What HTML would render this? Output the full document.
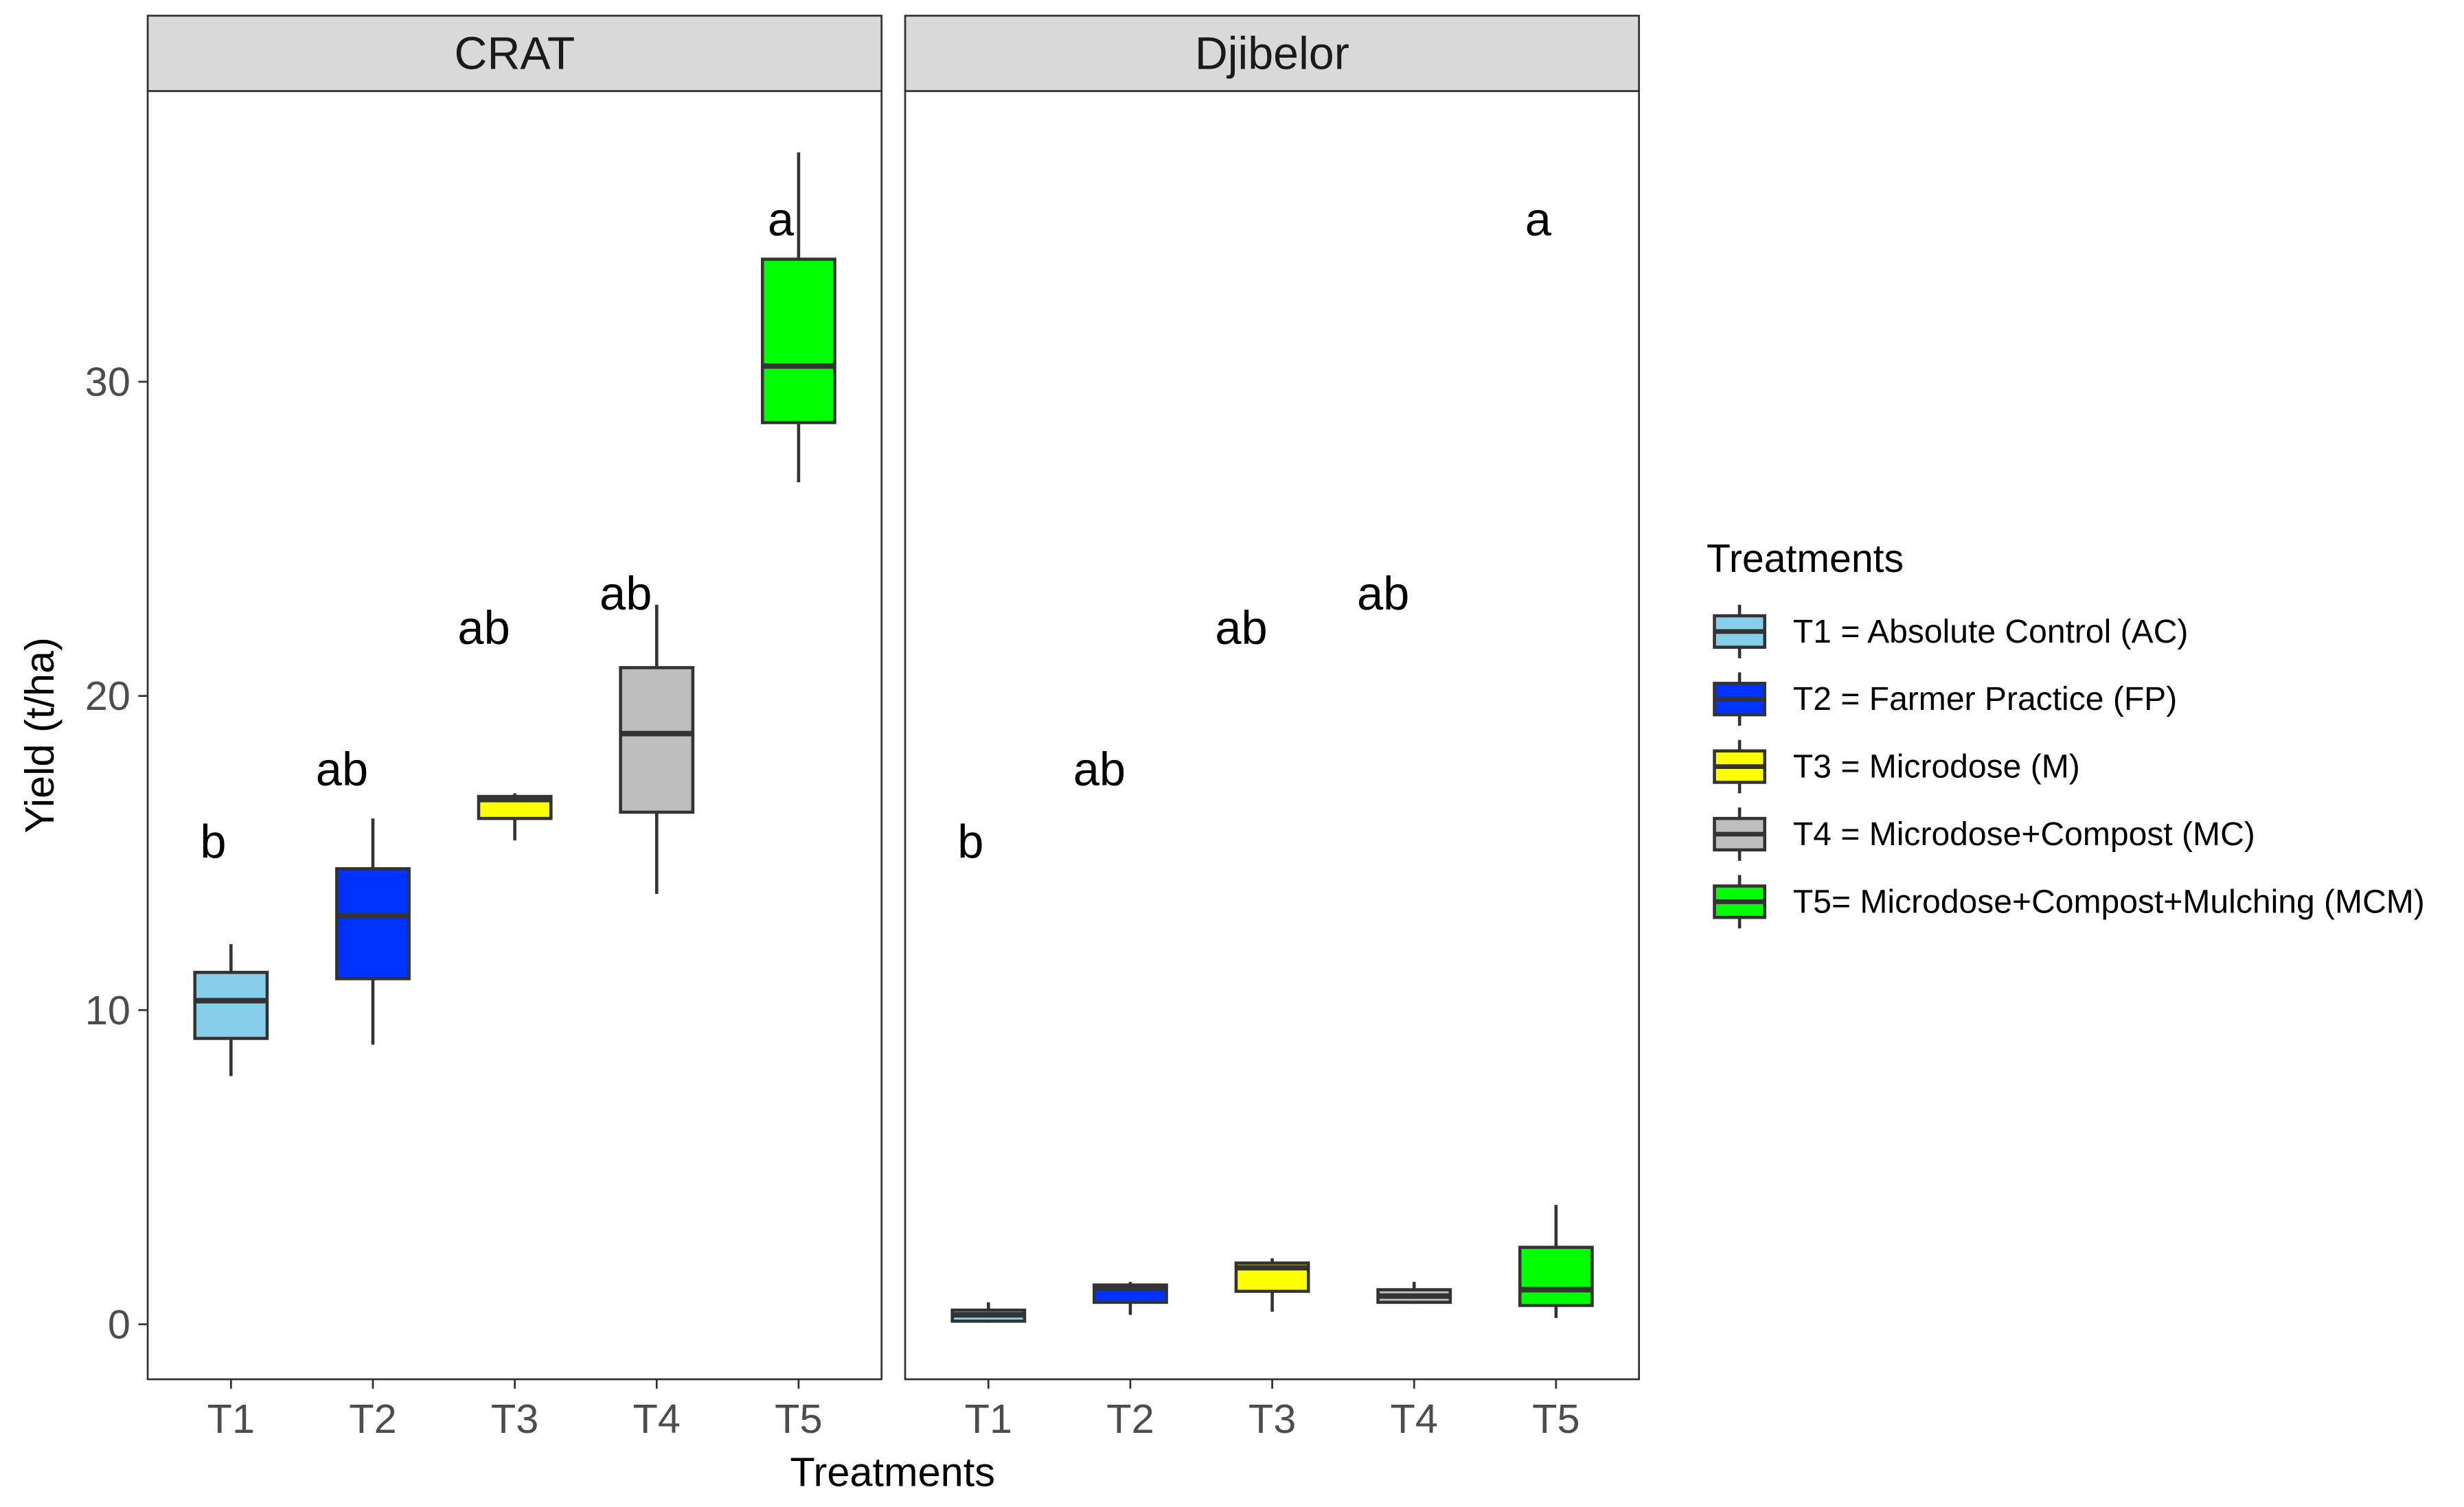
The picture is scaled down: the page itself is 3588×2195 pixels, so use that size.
<!DOCTYPE html>
<html><head><meta charset="utf-8"><style>
html,body{margin:0;padding:0;background:#fff}
svg{display:block;font-family:"Liberation Sans",Arial,sans-serif}
</style></head><body>
<svg id="chart" width="3588" height="2195" viewBox="0 0 1568 959.3" preserveAspectRatio="none" xmlns="http://www.w3.org/2000/svg"></svg>
<script>
const categories = ["T1","T2","T3","T4","T5"];
const fills = ["#87CEEB","#0033FF","#FFFF00","#BEBEBE","#00FF00"];
const legendLabels = ["T1 = Absolute Control (AC)","T2 = Farmer Practice (FP)","T3 = Microdose (M)","T4 = Microdose+Compost (MC)","T5= Microdose+Compost+Mulching (MCM)"];
const yTicks = [0,10,20,30];
const letters = ["b","ab","ab","ab","a"];
const letterY = [15.3,17.6,22.1,23.2,35.1];
const panels = ["CRAT","Djibelor"];
// [low, q1, median, q3, high]
const cratStats = [[7.9,9.1,10.3,11.2,12.1],[8.9,11.0,13.0,14.5,16.1],[15.4,16.1,16.7,16.8,16.9],[13.7,16.3,18.8,20.9,22.9],[26.8,28.7,30.5,33.9,37.3]];
const djibStats = [[0.05,0.1,0.3,0.45,0.7],[0.3,0.7,1.15,1.25,1.35],[0.4,1.05,1.8,1.95,2.1],[0.65,0.7,0.9,1.1,1.35],[0.2,0.6,1.1,2.45,3.8]];
const allStats = [cratStats, djibStats];

const svg = document.getElementById('chart');
const NS = "http://www.w3.org/2000/svg";
function el(tag, attrs, parent){const e=document.createElementNS(NS,tag);for(const k in attrs)e.setAttribute(k,attrs[k]);(parent||svg).appendChild(e);return e;}
const panelX = [94,576], panelW = 467, pTop = 58, pBot = 878;
const yScale = v => 843 - v*20;
const xScale = (p,i) => panelX[p] + 53 + i*90.3;

panels.forEach((name,p)=>{
  const g = el('g',{});
  
  
  const strip = el('rect',{x:panelX[p],y:10,width:panelW,height:48,fill:'#D9D9D9',stroke:'#333',"stroke-width":1.2},g);
  
  
  const st = el('text',{x:panelX[p]+panelW/2,y:44,"text-anchor":"middle","font-size":29,fill:'#1A1A1A'},g);
  st.textContent = name;
  
  
  const frame = el('rect',{x:panelX[p],y:pTop,width:panelW,height:pBot-pTop,fill:'#fff',stroke:'#333',"stroke-width":1.2},g);
  
  
  categories.forEach((c,i)=>{
    const x = xScale(p,i), s = allStats[p][i], hw = 23;
    const bg = el('g',{},g);
    
    
    el('line',{x1:x,x2:x,y1:yScale(s[4]),y2:yScale(s[3]),stroke:'#333',"stroke-width":2},bg);
    el('line',{x1:x,x2:x,y1:yScale(s[1]),y2:yScale(s[0]),stroke:'#333',"stroke-width":2},bg);
    el('rect',{x:x-hw,y:yScale(s[3]),width:hw*2,height:Math.max(0.5,yScale(s[1])-yScale(s[3])),fill:fills[i],stroke:'#333',"stroke-width":2},bg);
    el('line',{x1:x-hw,x2:x+hw,y1:yScale(s[2]),y2:yScale(s[2]),stroke:'#333',"stroke-width":3.5},bg);
    const lt = el('text',{x:x-3,y:yScale(letterY[i])+9,"text-anchor":"end","font-size":30,fill:'#000'},g);
    lt.textContent = letters[i];
    
    
    el('line',{x1:x,x2:x,y1:pBot,y2:pBot+6,stroke:'#333',"stroke-width":1.2},g);
    const tl = el('text',{x:x,y:912,"text-anchor":"middle","font-size":26,fill:'#4D4D4D'},g);
    tl.textContent = c;
    
    
  });
});
yTicks.forEach(v=>{
  el('line',{x1:88,x2:94,y1:yScale(v),y2:yScale(v),stroke:'#333',"stroke-width":1.2});
  const t = el('text',{x:83,y:yScale(v)+9,"text-anchor":"end","font-size":26,fill:'#4D4D4D'});
  t.textContent = v;
  
  
});
const yt = el('text',{x:0,y:0,transform:'translate(34,468) rotate(-90)',"text-anchor":"middle","font-size":26,fill:'#000'});
yt.textContent = 'Yield (t/ha)';


const xt = el('text',{x:568,y:946,"text-anchor":"middle","font-size":26,fill:'#000'});
xt.textContent = 'Treatments';


const lg = el('g',{});


const ltitle = el('text',{x:1086,y:364,"font-size":25,fill:'#000'},lg);
ltitle.textContent = 'Treatments';


legendLabels.forEach((lab,i)=>{
  const cy = 402 + i*43;
  const e = el('g',{},lg);
  
  
  el('line',{x1:1107,x2:1107,y1:cy-17,y2:cy+17,stroke:'#333',"stroke-width":2},e);
  el('rect',{x:1091,y:cy-10,width:32,height:20,fill:fills[i],stroke:'#333',"stroke-width":2},e);
  el('line',{x1:1091,x2:1123,y1:cy,y2:cy,stroke:'#333',"stroke-width":3},e);
  const t = el('text',{x:1141,y:cy+7,"font-size":21,fill:'#000'},e);
  t.textContent = lab;
});
</script>
</body></html>
